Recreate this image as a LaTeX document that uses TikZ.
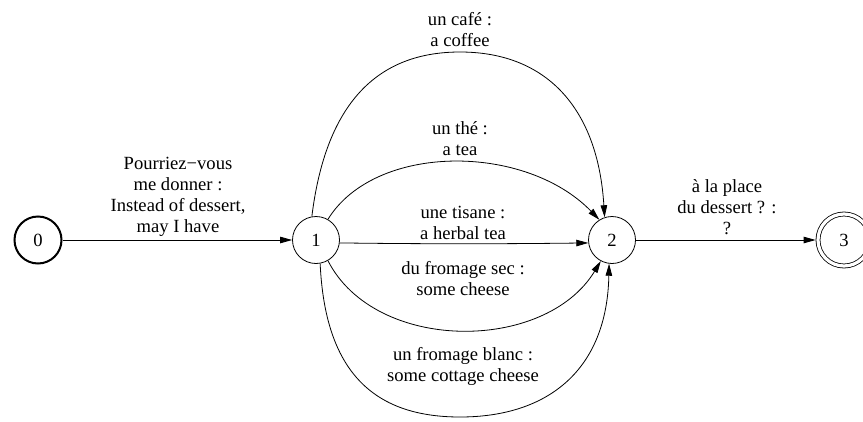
\documentclass[tikz,border=0pt]{standalone}
\usepackage{fontspec}
\setmainfont{Liberation Serif}
\newfontfamily\lblfont{Liberation Serif}
\usepackage{tikz}
\usetikzlibrary{arrows.meta}
\tikzset{
  qnode/.style={circle,draw,minimum size=47pt,inner sep=0pt,line width=0.8pt},
  inode/.style={qnode,line width=2pt},
  anode/.style={qnode,double,double distance=3.2pt,minimum size=52pt,outer sep=2.4pt},
  tedge/.style={-{Triangle[length=12pt,width=6.5pt]},line width=0.8pt},
  lbl/.style={align=center,inner sep=0pt},
}

\begin{document}
\begin{tikzpicture}[x=1pt,y=-1pt,every node/.style={font=\lblfont\fontsize{18.6}{21}\selectfont}]
  \useasboundingbox (0,0) rectangle (863,421);
  \node[inode] (q0) at (38,240){0}; \node[qnode] (q1) at (316,240){1};
  \node[qnode] (q2) at (612,240){2}; \node[anode] (q3) at (844,240){3};
  % labels
  \node[lbl] (l01) at (178,197){Pourriez−vous\\me donner :\\Instead of dessert,\\may I have};
  \node[lbl] (lcafe) at (460,30){un café :\\a coffee};
  \node[lbl] (lthe) at (460,139){un thé :\\a tea};
  \node[lbl] (ltisane) at (463,223){une tisane :\\a herbal tea};
  \node[lbl] (lsec) at (463,279){du fromage sec :\\some cheese};
  \node[lbl] (lblanc) at (463,366){un fromage blanc :\\some cottage cheese};
  \node[lbl] (l23) at (727,207){à la place\\du dessert ? :\\?};
  % transitions
  \draw[tedge] (q0)--(q1); \draw[tedge] (q2)--(q3);
  \draw[tedge] (q1.100) .. controls (325,110) and (372,52) .. (460,52)
    .. controls (548,52) and (598,110) .. (q2.108);
  \draw[tedge] (q1.60) .. controls (375,143) and (525,143) .. (q2.122);
  \draw[tedge] (q1.-7) .. controls (420,244) and (500,244) .. (q2.187);
  \draw[tedge] (q1.-60) .. controls (375,353) and (545,353) .. (q2.-118);
  \draw[tedge] (q1.-80) .. controls (325,370) and (372,417) .. (460,417)
    .. controls (548,417) and (607,370) .. (q2.-97);
\end{tikzpicture}
\end{document}
